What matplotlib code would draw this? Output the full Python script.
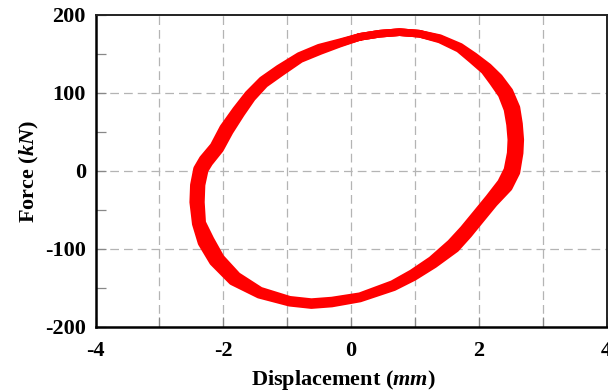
import numpy as np
import matplotlib.pyplot as plt
from matplotlib.ticker import MultipleLocator

# ==========================================
# 1. DADOS
# ==========================================
# ciclo externo (deslocamento em mm, força em kN)
disp_ciclo1 = [0.14, 0.45, 0.76, 1.07, 1.39, 1.71, 1.93, 2.15, 2.32, 2.48,
               2.59, 2.63, 2.65, 2.64, 2.59, 2.47, 2.24, 2.04, 1.84, 1.64,
               1.30, 0.985, 0.67, 0.14, -0.30, -0.62, -0.96, -1.44, -1.86, -2.16,
               -2.34, -2.43, -2.47, -2.46, -2.41, -2.32, -2.15, -2.00, -1.80, -1.61,
               -1.39, -1.13, -0.81, -0.50, -0.18, 0.14]
forca_ciclo1 = [172, 176, 178, 176, 170.4, 159.3, 147.1, 133.4, 119.8, 102.3,
                81.3, 60.6, 40, 23, -1.8, -21.4, -41.3, -61.3, -81.4, -99.6,
                -119.9, -136, -149, -163.5, -169.9, -171.9, -168.9, -158.6, -141.6, -116.8,
                -92.2, -67.8, -40, -18, 2.9, 15.5, 32.1, 55.5, 78.4, 98.3,
                116.5, 131.4, 147.5, 158.1, 164.9, 172]

# ciclo intermediário
disp_ciclo2 = [0.14, 0.45, 0.76, 1.07, 1.39, 1.70, 1.91, 2.12, 2.27, 2.42,
               2.52, 2.56, 2.58, 2.57, 2.52, 2.41, 2.20, 2.00, 1.80, 1.60,
               1.28, 0.97, 0.66, 0.14, -0.30, -0.62, -0.96, -1.43, -1.82, -2.10,
               -2.27, -2.38, -2.41, -2.40, -2.35, -2.27, -2.10, -1.95, -1.76, -1.58,
               -1.37, -1.11, -0.80, -0.49, -0.18, 0.14]
forca_ciclo2 = [172, 176, 178, 176, 169.5, 158, 145, 131, 117, 100,
                80, 60, 40, 23, 0, -18, -38, -58, -78, -96,
                -117, -133.5, -147, -162, -168, -170, -167, -156, -138, -114,
                -90, -67, -40, -18, 2, 13, 30, 53, 76, 96,
                114, 129, 145.5, 156, 164, 172]

# ciclo interno
disp_ciclo3 = [0.14, 0.45, 0.76, 1.07, 1.39, 1.69, 1.89, 2.09, 2.22, 2.36,
               2.45, 2.49, 2.51, 2.50, 2.45, 2.35, 2.16, 1.96, 1.76, 1.56,
               1.26, 0.955, 0.65, 0.14, -0.30, -0.62, -0.96, -1.42, -1.78, -2.04,
               -2.20, -2.33, -2.35, -2.34, -2.29, -2.22, -2.05, -1.90, -1.72, -1.55,
               -1.35, -1.09, -0.79, -0.48, -0.18, 0.14]
forca_ciclo3 = [172, 176, 178, 176, 168.6, 156.7, 142.9, 128.6, 114.2, 97.7,
                78.7, 59.4, 40, 23, 1.8, -14.6, -34.7, -54.7, -74.6, -92.4,
                -114.1, -131, -145, -160.5, -166.1, -168.1, -165.1, -153.4, -134.4, -111.2,
                -87.8, -66.2, -40, -18, 1.1, 10.5, 27.9, 50.5, 73.6, 93.7,
                111.5, 126.6, 143.5, 153.9, 163.1, 172]

x_ticks = [-4, -2, 0, 2, 4]
y_ticks = [-200, -100, 0, 100, 200]

# ==========================================
# 2. ESTILO
# ==========================================
plt.rcParams['font.family'] = ['Liberation Serif', 'DejaVu Serif']
plt.rcParams['font.weight'] = 'bold'
plt.rcParams['axes.unicode_minus'] = False
plt.rcParams['mathtext.fontset'] = 'custom'
plt.rcParams['mathtext.rm'] = 'Liberation Serif:bold'
plt.rcParams['mathtext.it'] = 'Liberation Serif:italic:bold'

fig = plt.figure(figsize=(6.08, 3.91), dpi=100)
ax = fig.add_axes([95.5 / 608, 64 / 391, 511 / 608, 312 / 391])

# ==========================================
# 3. CURVAS
# ==========================================
ciclos = [(disp_ciclo1, forca_ciclo1), (disp_ciclo2, forca_ciclo2), (disp_ciclo3, forca_ciclo3)]
for d, f in ciclos:
    ax.plot(d, f, color='#ff0000', linewidth=5.5,
            solid_joinstyle='round', solid_capstyle='round', zorder=3)

# ==========================================
# 4. EIXOS E GRADE
# ==========================================
ax.set_xlim(-4, 4)
ax.set_ylim(-200, 200)
ax.set_xticks(x_ticks)
ax.set_yticks(y_ticks)
ax.xaxis.set_minor_locator(MultipleLocator(1))
ax.yaxis.set_minor_locator(MultipleLocator(50))

grid_kw = dict(color='#b4b4b4', linestyle=(0, (7, 4)), linewidth=0.9)
for xv in range(-3, 4):
    ax.axvline(xv, zorder=1, **grid_kw)
for yv in [-100, 0, 100]:
    ax.axhline(yv, zorder=1, **grid_kw)

ax.tick_params(which='both', direction='in', length=7, width=0.9,
               color='#888888', labelsize=16, pad=10)
ax.tick_params(axis='y', pad=7)

for side in ['left', 'bottom']:
    ax.spines[side].set_linewidth(1.8)
    ax.spines[side].set_color('black')
for side in ['top', 'right']:
    ax.spines[side].set_linewidth(1.4)
    ax.spines[side].set_color('#222222')

for lbl in ax.get_xticklabels() + ax.get_yticklabels():
    lbl.set_fontweight('bold')

ax.set_xlabel(r'Displacement ($\mathit{mm}$)', fontsize=16, fontweight='bold', labelpad=5)
ax.xaxis.label.set_x(0.485)
ax.set_ylabel(r'Force ($\mathit{kN}$)', fontsize=16, fontweight='bold', labelpad=3)

fig.savefig('out.png', dpi=100)
